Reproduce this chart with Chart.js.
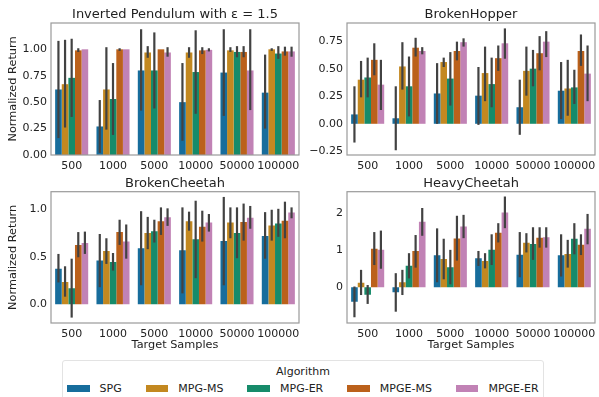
<!DOCTYPE html>
<html>
<head>
<meta charset="utf-8">
<script src="https://cdn.jsdelivr.net/npm/chart.js@4"></script>
<style>
  body { margin: 0; background: #fff; font-family: "DejaVu Sans", sans-serif; }
  #wrap { position: relative; width: 599px; height: 397px; overflow: hidden; }
  canvas { position: absolute; }
  #legend {
    position: absolute; left: 62px; top: 360px; width: 482px; height: 50px;
    border: 1px solid #e3e3e3; border-radius: 3px; box-sizing: border-box;
    font-size: 11px; line-height: 13px; color: #222; white-space: nowrap;
  }
  #legend .ttl { text-align: center; margin-top: 4px; }
  #legend .row { display: flex; margin-top: 3.5px; padding-left: 4px; }
  #legend .item { display: flex; align-items: center; margin-right: 24px; flex-shrink: 0; }
  #legend .sw { width: 22.6px; height: 7px; margin-right: 10px; }
</style>
</head>
<body>
<div id="wrap">
  <canvas id="pendulumChart" width="350" height="175" style="left:0;top:0"></canvas>
  <canvas id="hopperChart" width="342" height="175" style="left:300px;top:0"></canvas>
  <canvas id="brokenCheetahChart" width="350" height="190" style="left:0;top:170px"></canvas>
  <canvas id="heavyCheetahChart" width="342" height="190" style="left:300px;top:170px"></canvas>
  <div id="legend"></div>
</div>
<script>
const samples = ["500", "1000", "5000", "10000", "50000", "100000"];
const algorithms = ["SPG", "MPG-MS", "MPG-ER", "MPGE-MS", "MPGE-ER"];
const colors = ["#176d9c", "#c38820", "#168b6a", "#bb611b", "#c182b5"];

// rows = algorithms, columns = target samples
const pendulumMean = [
    [0.62, 0.27, 0.80, 0.50, 0.78, 0.59],
    [0.67, 0.62, 0.97, 0.97, 0.99, 1.00],
    [0.73, 0.53, 0.80, 0.785, 0.975, 0.96],
    [0.99, 1.00, 1.00, 0.99, 0.975, 0.98],
    [1.00, 1.00, 0.97, 0.995, 0.80, 0.98],
];
const pendulumLow = [
    [0.16, 0.02, 0.42, 0.135, 0.37, 0.25],
    [0.26, 0.24, 0.92, 0.92, 0.975, 0.985],
    [0.36, 0.19, 0.44, 0.39, 0.925, 0.91],
    [0.975, 0.985, 1.00, 0.955, 0.925, 0.94],
    [1.00, 1.00, 0.93, 0.98, 0.425, 0.93],
];
const pendulumHigh = [
    [1.08, 0.52, 1.19, 0.87, 1.19, 0.95],
    [1.09, 1.02, 1.03, 1.02, 1.02, 1.01],
    [1.10, 0.87, 1.16, 1.18, 1.03, 1.03],
    [1.01, 1.01, 1.00, 1.02, 1.03, 1.025],
    [1.00, 1.00, 1.02, 1.01, 1.19, 1.025],
];

const hopperMean = [
    [0.085, 0.05, 0.275, 0.255, 0.15, 0.30],
    [0.40, 0.52, 0.56, 0.46, 0.48, 0.32],
    [0.42, 0.34, 0.41, 0.36, 0.50, 0.33],
    [0.58, 0.69, 0.66, 0.595, 0.64, 0.66],
    [0.355, 0.66, 0.74, 0.73, 0.745, 0.455],
];
const hopperLow = [
    [-0.17, -0.24, 0.0, -0.01, -0.10, 0.043],
    [0.24, 0.31, 0.515, 0.205, 0.255, 0.073],
    [0.24, 0.067, 0.165, 0.15, 0.34, 0.18],
    [0.44, 0.61, 0.575, 0.48, 0.485, 0.525],
    [0.125, 0.63, 0.70, 0.59, 0.605, 0.205],
];
const hopperHigh = [
    [0.34, 0.34, 0.55, 0.515, 0.40, 0.56],
    [0.57, 0.74, 0.60, 0.70, 0.70, 0.58],
    [0.60, 0.61, 0.65, 0.60, 0.67, 0.49],
    [0.73, 0.78, 0.745, 0.71, 0.795, 0.81],
    [0.58, 0.695, 0.775, 0.865, 0.84, 0.71],
];

const brokenCheetahMean = [
    [0.375, 0.46, 0.59, 0.57, 0.665, 0.72],
    [0.235, 0.56, 0.75, 0.875, 0.86, 0.83],
    [0.17, 0.445, 0.77, 0.685, 0.75, 0.85],
    [0.625, 0.76, 0.875, 0.815, 0.865, 0.88],
    [0.645, 0.66, 0.915, 0.86, 0.91, 0.965],
];
const brokenCheetahLow = [
    [0.23, 0.18, 0.20, 0.115, 0.20, 0.48],
    [0.08, 0.425, 0.58, 0.775, 0.695, 0.67],
    [-0.14, 0.355, 0.65, 0.275, 0.485, 0.71],
    [0.495, 0.625, 0.73, 0.66, 0.67, 0.695],
    [0.53, 0.48, 0.825, 0.765, 0.795, 0.905],
];
const brokenCheetahHigh = [
    [0.53, 0.74, 0.98, 1.02, 1.13, 0.97],
    [0.40, 0.695, 0.92, 0.975, 1.02, 0.995],
    [0.48, 0.54, 0.89, 1.09, 1.02, 1.005],
    [0.76, 0.89, 1.02, 0.985, 1.06, 1.08],
    [0.765, 0.84, 1.01, 0.95, 1.035, 1.02],
];

const heavyCheetahMean = [
    [-0.39, -0.135, 0.865, 0.78, 0.875, 0.865],
    [0.125, 0.135, 0.765, 0.71, 1.20, 0.90],
    [-0.20, 0.58, 0.54, 1.01, 1.17, 1.31],
    [1.04, 0.98, 1.315, 1.47, 1.34, 1.15],
    [1.01, 1.77, 1.64, 2.02, 1.35, 1.58],
];
const heavyCheetahLow = [
    [-0.81, -0.66, 0.135, 0.575, 0.27, 0.29],
    [-0.21, -0.21, 0.215, 0.51, 0.94, 0.53],
    [-0.45, 0.24, 0.08, 0.60, 0.74, 0.89],
    [0.60, 0.53, 0.72, 1.21, 1.07, 0.87],
    [0.50, 1.39, 1.325, 1.595, 1.07, 1.16],
];
const heavyCheetahHigh = [
    [0.02, 0.38, 1.59, 0.98, 1.49, 1.43],
    [0.47, 0.47, 1.31, 0.92, 1.46, 1.28],
    [0.06, 0.92, 1.01, 1.43, 1.62, 1.73],
    [1.49, 1.41, 1.93, 1.73, 1.62, 1.43],
    [1.53, 2.14, 1.955, 2.45, 1.62, 1.98],
];

const pendulumTicks = [0, 0.25, 0.5, 0.75, 1.0];
const hopperTicks = [-0.25, 0, 0.25, 0.5, 0.75];
const brokenCheetahTicks = [0, 0.5, 1.0];
const heavyCheetahTicks = [0, 1, 2];

const FONT = "'DejaVu Sans', sans-serif";
const TEXT = "#222";

// error bars + axes frame
const errorBarPlugin = {
    id: "errorBars",
    afterDatasetsDraw(chart) {
        const ctx = chart.ctx;
        const yScale = chart.scales.y;
        ctx.save();
        ctx.strokeStyle = "#424242";
        ctx.lineWidth = 2.2;
        chart.data.datasets.forEach((ds, i) => {
            chart.getDatasetMeta(i).data.forEach((bar, j) => {
                const lo = ds.errLow[j];
                const hi = ds.errHigh[j];
                if (lo === hi) return;
                ctx.beginPath();
                ctx.moveTo(bar.x, yScale.getPixelForValue(lo));
                ctx.lineTo(bar.x, yScale.getPixelForValue(hi));
                ctx.stroke();
            });
        });
        const a = chart.chartArea;
        ctx.strokeStyle = "#9a9a9a";
        ctx.lineWidth = 1.2;
        ctx.strokeRect(a.left, a.top, a.right - a.left, a.bottom - a.top);
        ctx.restore();
    },
};

function fmt(v, decimals) {
    const s = Math.abs(v).toFixed(decimals);
    return v < 0 ? "\u2212" + s : s;
}

function makePanel(id, title, mean, low, high, yRange, ticks, decimals, opt) {
    const ctx = document.getElementById(id).getContext("2d");
    return new Chart(ctx, {
        type: "bar",
        data: {
            labels: samples,
            datasets: algorithms.map((name, i) => ({
                label: name,
                data: mean[i],
                errLow: low[i],
                errHigh: high[i],
                backgroundColor: colors[i],
                borderWidth: 0,
                categoryPercentage: 0.8,
                barPercentage: 1.0,
            })),
        },
        options: {
            responsive: false,
            animation: false,
            layout: { padding: { left: 0, right: 0, top: 0, bottom: opt.padBottom } },
            plugins: {
                legend: { display: false },
                tooltip: { enabled: false },
                title: {
                    display: true,
                    text: title,
                    color: TEXT,
                    font: { family: FONT, size: 13, weight: "normal" },
                    padding: { top: opt.titleTop, bottom: opt.titleBottom },
                },
            },
            scales: {
                x: {
                    grid: { display: false, drawTicks: false },
                    border: { display: false },
                    ticks: { color: TEXT, padding: 5, font: { family: FONT, size: 11 }, maxRotation: 0, autoSkip: false },
                    title: {
                        display: opt.xTitle,
                        text: "Target Samples",
                        color: TEXT,
                        padding: { top: 0, bottom: 0 },
                        font: { family: FONT, size: 11.3 },
                    },
                    afterFit: (scale) => { scale.height = opt.xHeight; },
                },
                y: {
                    min: yRange[0],
                    max: yRange[1],
                    grid: { display: false, drawTicks: false },
                    border: { display: false },
                    afterBuildTicks: (scale) => { scale.ticks = ticks.map((v) => ({ value: v })); },
                    ticks: {
                        color: TEXT,
                        padding: 4,
                        font: { family: FONT, size: 11 },
                        callback: (v) => fmt(v, decimals),
                    },
                    title: {
                        display: opt.yTitle,
                        text: "Normalized Return",
                        color: TEXT,
                        padding: { top: 6, bottom: 0 },
                        font: { family: FONT, size: 11.3 },
                    },
                    afterFit: (scale) => { scale.width = opt.yWidth; },
                },
                // empty right axis, same width as the left one, so the title centres over the plot
                spacer: {
                    axis: "y",
                    position: "right",
                    grid: { display: false, drawTicks: false },
                    border: { display: false },
                    ticks: { display: false },
                    afterFit: (scale) => { scale.width = opt.yWidth; },
                },
            },
        },
        plugins: [errorBarPlugin],
    });
}

document.addEventListener("DOMContentLoaded", function () {
    makePanel("pendulumChart", "Inverted Pendulum with \u03b5 = 1.5", pendulumMean, pendulumLow, pendulumHigh,
        [0, 1.249], pendulumTicks, 2,
        { titleTop: 6.6, titleBottom: 0.8, xHeight: 20, padBottom: 0, yWidth: 51, yTitle: true, xTitle: false });
    makePanel("hopperChart", "BrokenHopper", hopperMean, hopperLow, hopperHigh,
        [-0.283, 0.914], hopperTicks, 2,
        { titleTop: 6.6, titleBottom: 0.8, xHeight: 20, padBottom: 0, yWidth: 47, yTitle: false, xTitle: false });
    makePanel("brokenCheetahChart", "BrokenCheetah", brokenCheetahMean, brokenCheetahLow, brokenCheetahHigh,
        [-0.197, 1.185], brokenCheetahTicks, 1,
        { titleTop: 6.1, titleBottom: 0, xHeight: 28.6, padBottom: 8.4, yWidth: 51, yTitle: true, xTitle: true });
    makePanel("heavyCheetahChart", "HeavyCheetah", heavyCheetahMean, heavyCheetahLow, heavyCheetahHigh,
        [-0.965, 2.58], heavyCheetahTicks, 0,
        { titleTop: 6.1, titleBottom: 0, xHeight: 28.6, padBottom: 8.4, yWidth: 47, yTitle: false, xTitle: true });

    // legend
    var legend = document.getElementById("legend");
    var html = '<div class="ttl">Algorithm</div><div class="row">';
    algorithms.forEach(function (name, i) {
        html += '<div class="item"><span class="sw" style="background:' + colors[i] + '"></span>' + name + "</div>";
    });
    legend.innerHTML = html + "</div>";
});
</script>
</body>
</html>
